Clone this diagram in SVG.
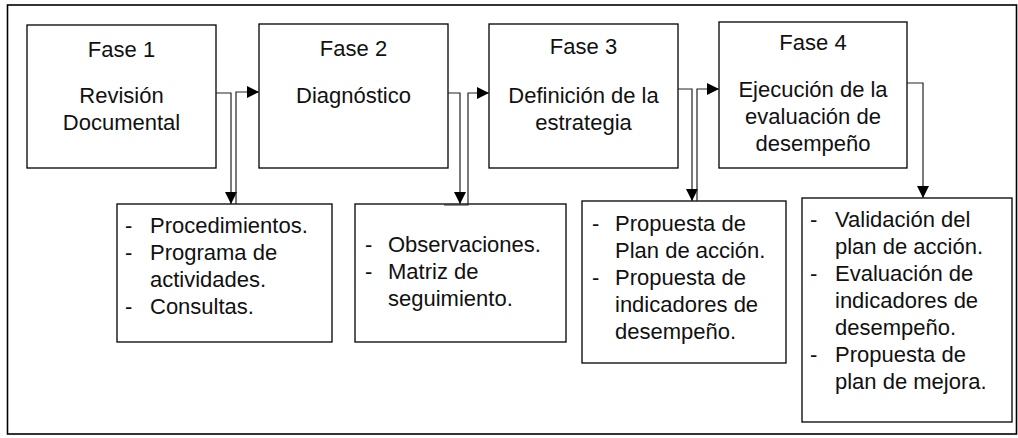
<svg xmlns="http://www.w3.org/2000/svg" width="1018" height="438" viewBox="0 0 1018 438">
<style>
  .box { fill: #fff; stroke: #000; stroke-width: 1.3; }
  .frame { fill: #fff; stroke: #000; stroke-width: 1.6; }
  .t { font-family: "Liberation Sans", Arial, sans-serif; font-size: 22px; fill: #111; }
  .c { text-anchor: middle; }
  .conn { fill: none; stroke: #222; stroke-width: 1.2; }
</style>
<defs>
  <marker id="arr" markerUnits="userSpaceOnUse" markerWidth="12" markerHeight="12" refX="12" refY="6" orient="auto">
    <path d="M0,0 L12,6 L0,12 z" fill="#000"/>
  </marker>
</defs>
<rect class="frame" x="7.5" y="5" width="1009" height="429"/>

<g id="fase1">
  <rect class="box" x="27" y="25" width="189" height="143"/>
  <text class="t c" x="121.5" y="57">Fase 1</text>
  <text class="t c" x="121.5" y="103">Revisión</text>
  <text class="t c" x="121.5" y="130">Documental</text>
</g>
<g id="fase2">
  <rect class="box" x="259" y="24" width="189" height="144"/>
  <text class="t c" x="353.5" y="56">Fase 2</text>
  <text class="t c" x="353.5" y="103">Diagnóstico</text>
</g>
<g id="fase3">
  <rect class="box" x="489" y="24" width="189" height="144"/>
  <text class="t c" x="583.5" y="54">Fase 3</text>
  <text class="t c" x="583.5" y="103">Definición de la</text>
  <text class="t c" x="583.5" y="130">estrategia</text>
</g>
<g id="fase4">
  <rect class="box" x="719" y="22" width="188" height="146"/>
  <text class="t c" x="813" y="50">Fase 4</text>
  <text class="t c" x="813" y="97">Ejecución de la</text>
  <text class="t c" x="813" y="124">evaluación de</text>
  <text class="t c" x="813" y="151">desempeño</text>
</g>

<g id="res1">
  <rect class="box" x="117" y="204" width="215" height="138"/>
  <text class="t" x="125" y="233">-</text><text class="t" x="150" y="233">Procedimientos.</text>
  <text class="t" x="125" y="260">-</text><text class="t" x="150" y="260">Programa de</text>
  <text class="t" x="150" y="287">actividades.</text>
  <text class="t" x="125" y="314">-</text><text class="t" x="150" y="314">Consultas.</text>
</g>
<g id="res2">
  <rect class="box" x="355" y="204" width="211" height="138"/>
  <text class="t" x="365" y="252">-</text><text class="t" x="388" y="252">Observaciones.</text>
  <text class="t" x="365" y="279">-</text><text class="t" x="388" y="279">Matriz de</text>
  <text class="t" x="388" y="306">seguimiento.</text>
</g>
<g id="res3">
  <rect class="box" x="582" y="201" width="204" height="162"/>
  <text class="t" x="592" y="231">-</text><text class="t" x="615" y="231">Propuesta de</text>
  <text class="t" x="615" y="258">Plan de acción.</text>
  <text class="t" x="592" y="285">-</text><text class="t" x="615" y="285">Propuesta de</text>
  <text class="t" x="615" y="312">indicadores de</text>
  <text class="t" x="615" y="339">desempeño.</text>
</g>
<g id="res4">
  <rect class="box" x="802" y="198" width="210" height="224"/>
  <text class="t" x="810" y="227">-</text><text class="t" x="835" y="227">Validación del</text>
  <text class="t" x="835" y="254">plan de acción.</text>
  <text class="t" x="810" y="281">-</text><text class="t" x="835" y="281">Evaluación de</text>
  <text class="t" x="835" y="308">indicadores de</text>
  <text class="t" x="835" y="335">desempeño.</text>
  <text class="t" x="810" y="362">-</text><text class="t" x="835" y="362">Propuesta de</text>
  <text class="t" x="835" y="389">plan de mejora.</text>
</g>

<g id="connectors">
  <path class="conn" d="M216,93 H231 V204" marker-end="url(#arr)"/>
  <path class="conn" d="M236,204 V92 H259" marker-end="url(#arr)"/>
  <path class="conn" d="M448,93 H460 V204" marker-end="url(#arr)"/>
  <path class="conn" d="M444,205 H468 V93 H489" marker-end="url(#arr)"/>
  <path class="conn" d="M678,89 H692 V201" marker-end="url(#arr)"/>
  <path class="conn" d="M697,201 V89 H719" marker-end="url(#arr)"/>
  <path class="conn" d="M907,83 H923 V198" marker-end="url(#arr)"/>
</g>
</svg>
